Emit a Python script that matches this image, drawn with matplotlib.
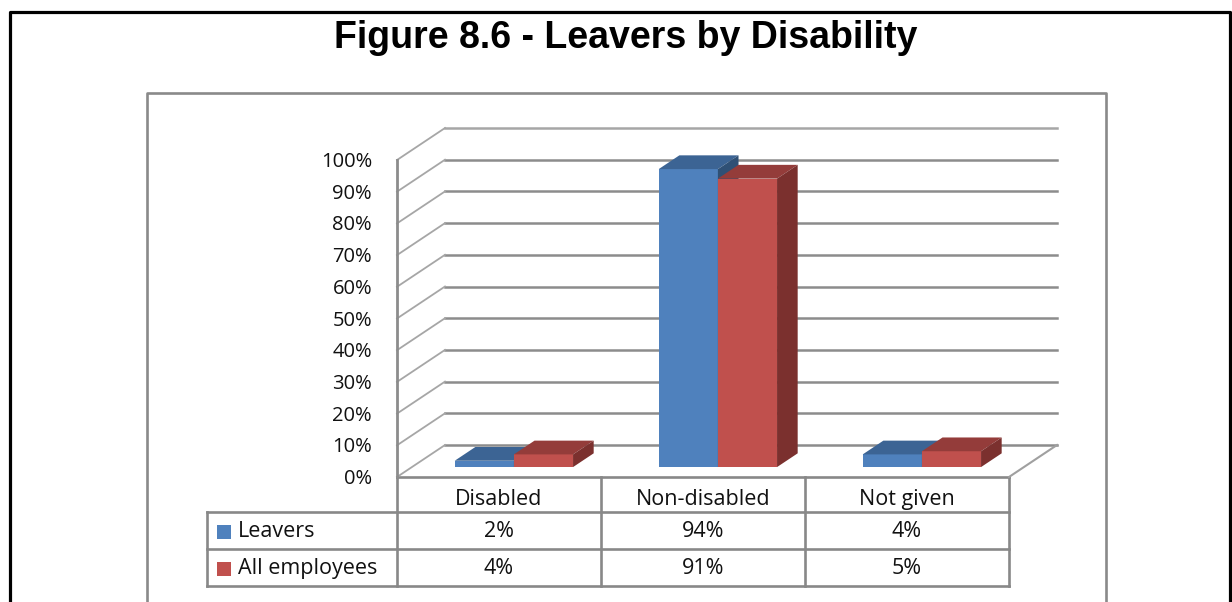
import matplotlib
matplotlib.use("Agg")
import matplotlib.pyplot as plt
from matplotlib.patches import Polygon, Rectangle
from matplotlib.lines import Line2D
from matplotlib.transforms import IdentityTransform, offset_copy

categories = ["Disabled", "Non-disabled", "Not given"]
series_names = ["Leavers", "All employees"]
leavers = [2, 94, 4]
all_employees = [4, 91, 5]
yticks = [0, 10, 20, 30, 40, 50, 60, 70, 80, 90, 100]
ytick_labels = ["0%", "10%", "20%", "30%", "40%", "50%", "60%", "70%", "80%", "90%", "100%"]

front = {"Leavers": "#4F81BD", "All employees": "#C0504D"}
top = {"Leavers": "#3C6494", "All employees": "#943C3A"}
side = {"Leavers": "#2F5075", "All employees": "#7B302E"}
grid_c = "#8c8c8c"
font = "Open Sans"

W, H = 1232, 602
fig = plt.figure(figsize=(W / 100, H / 100), dpi=100)

# pixel overlay for frames and table
frame = fig.add_axes([0, 0, 1, 1])
frame.set_xlim(0, W)
frame.set_ylim(H, 0)
frame.axis("off")

# chart axes = front plane of the 3D box
ax = fig.add_axes([397 / W, (H - 477) / H, 612 / W, 317 / H])
ax.set_xlim(-0.5, 2.5)
ax.set_ylim(0, 100)
ax.axis("off")
ax.patch.set_alpha(0)

DX, DY = 48, 32        # wall depth in pixels
F0, F1 = 0.31, 0.74    # bar front / back depth
BW = 0.29              # bar width (category units)


def proj(x, y, d):
    px, py = ax.transData.transform((x, y))
    return (px + d * DX, py + d * DY)


def line(p, q, color=grid_c, lw=1.8, z=1):
    ax.add_line(Line2D([p[0], q[0]], [p[1], q[1]], color=color, lw=lw,
                       transform=IdentityTransform(), clip_on=False, zorder=z))


def poly(pts, color, z=3):
    ax.add_patch(Polygon(pts, closed=True, facecolor=color, edgecolor="none",
                         transform=IdentityTransform(), clip_on=False, zorder=z))


# walls
for t in yticks:
    c = "#a6a6a6" if t == 100 else grid_c
    line(proj(-0.5, t, 1), proj(2.5, t, 1), color=c)
    line(proj(-0.5, t, 0), proj(-0.5, t, 1), color="#a6a6a6", lw=1.3)
line(proj(-0.5, 0, 0), proj(-0.5, 100, 0), lw=2.0)
line(proj(2.5, 0, 0), proj(2.5, 0, 1), color="#a0a0a0", lw=1.5)

# tick labels
lab_tr = offset_copy(ax.transData, fig=fig, x=-25, y=-2, units="dots")
for t, s in zip(yticks, ytick_labels):
    ax.text(-0.5, t, s, transform=lab_tr, ha="right", va="center",
            fontsize=14.5, family=font, color="#111111")

# 3D bars
for i in range(len(categories)):
    for name, vals, x0 in [("Leavers", leavers, i - BW), ("All employees", all_employees, i)]:
        v = vals[i]
        x1 = x0 + BW
        poly([proj(x0, 0, F0), proj(x1, 0, F0), proj(x1, v, F0), proj(x0, v, F0)], front[name])
        poly([proj(x0, v, F0), proj(x1, v, F0), proj(x1, v, F1), proj(x0, v, F1)], top[name])
        poly([proj(x1, 0, F0), proj(x1, 0, F1), proj(x1, v, F1), proj(x1, v, F0)], side[name])

# data table under the chart
edges = [ax.transData.transform((e, 0))[0] for e in (-0.5, 0.5, 1.5, 2.5)]
centers = [ax.transData.transform((i, 0))[0] for i in range(len(categories))]
y_top = H - ax.transData.transform((0, 0))[1]
rows = [y_top, y_top + 35, y_top + 72, y_top + 109]
left = 207
tc = "#888888"
tlw = 1.9
tfs = 15.5
frame.plot([edges[0], edges[-1]], [rows[0], rows[0]], color=tc, lw=tlw)
for r in rows[1:]:
    frame.plot([left, edges[-1]], [r, r], color=tc, lw=tlw)
for e in edges:
    frame.plot([e, e], [rows[0], rows[-1]], color=tc, lw=tlw)
frame.plot([left, left], [rows[1], rows[-1]], color=tc, lw=tlw)

for c, s in zip(centers, categories):
    frame.text(c, (rows[0] + rows[1]) / 2 + 5, s, ha="center", va="center",
               fontsize=tfs, family=font, color="#111111")
for k, (name, vals) in enumerate(zip(series_names, [leavers, all_employees])):
    yc = (rows[k + 1] + rows[k + 2]) / 2 + 1
    frame.add_patch(Rectangle((217, yc - 7), 14, 14, facecolor=front[name], edgecolor="none"))
    frame.text(238, yc, name, ha="left", va="center", fontsize=tfs, family=font, color="#111111")
    for c, v in zip(centers, vals):
        frame.text(c, yc, f"{v}%", ha="center", va="center", fontsize=tfs,
                   family=font, color="#111111")

# outer frames
frame.plot([10, 10, 1230, 1230], [H + 5, 12, 12, H + 5], color="black", lw=2.3)
frame.plot([147, 147, 1106, 1106], [H + 5, 93, 93, H + 5], color="#8a8a8a", lw=1.9)

frame.text(626, 38, "Figure 8.6 - Leavers by Disability", ha="center", va="center",
           fontsize=27, fontweight="bold", family="Liberation Sans", color="black")

fig.savefig("out.png", dpi=100)
